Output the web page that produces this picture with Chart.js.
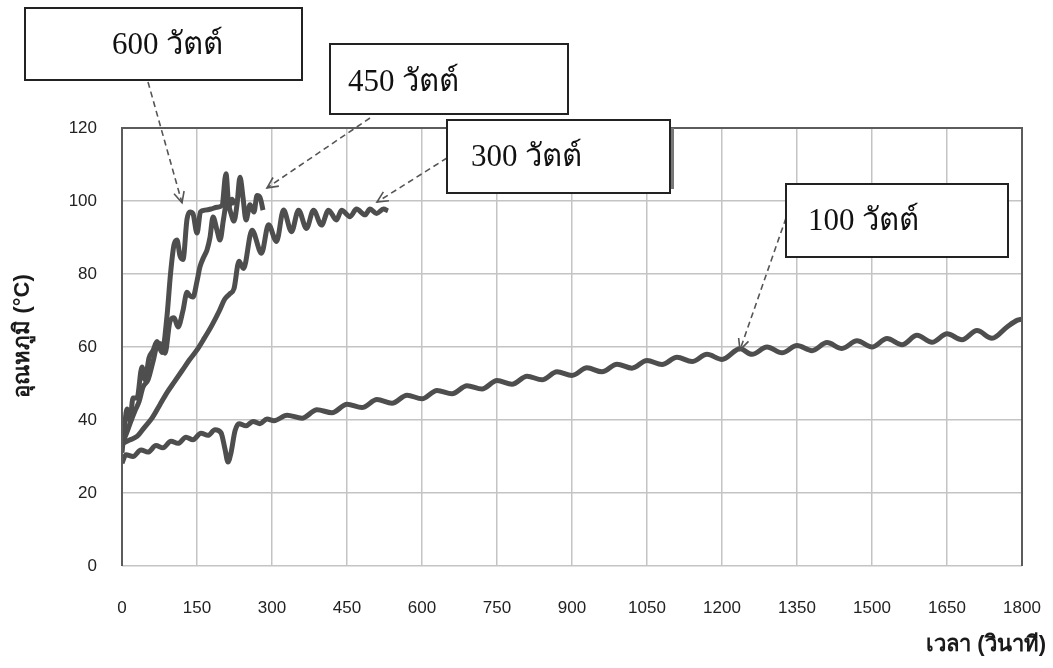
<!DOCTYPE html>
<html lang="th">
<head>
<meta charset="utf-8">
<script src="https://cdn.jsdelivr.net/npm/chart.js@4.4.1/dist/chart.umd.min.js"></script>
<style>
  html, body { margin: 0; padding: 0; background: #fff; }
</style>
</head>
<body>
<canvas id="tempChart" width="1053" height="668"></canvas>
<script>
/* =========================
   DATA (time in s, temperature in °C)
========================= */
const t600 = [0, 5, 10, 16, 22, 30, 40, 46, 54, 62, 70, 80, 90, 97, 104, 110, 116, 122, 130, 136,
  142, 150, 157, 166, 178, 190, 200, 208, 214, 220, 226];
const v600 = [31, 38, 43, 40, 46, 46, 54.5, 51, 57, 59, 61.5, 58.5, 68.5, 80, 88, 89.3, 85, 84, 95, 97,
  96.5, 91.2, 97, 97.5, 97.8, 98.3, 98.8, 107.5, 98.5, 100.5, 99];

const t450 = [0, 8, 16, 26, 34, 42, 52, 62, 72, 80, 86, 96, 104, 112, 122, 130, 136, 142, 150, 156,
  163, 170, 176, 182, 190, 196, 203, 210, 217, 224, 230, 236, 242, 248, 256, 264, 270, 276, 282];
const v450 = [33.5, 36, 39, 42.5, 45, 49, 51, 56, 61, 60.5, 58.3, 67, 68, 65.5, 70, 75, 74, 73.7, 78, 82,
  84.5, 86.6, 90, 95.6, 92, 89.3, 95, 100, 97, 94.5, 99, 106.5, 101, 94.8, 99, 97, 101.5, 101, 97.5];

const t300 = [0, 15, 30, 45, 60, 75, 90, 105, 120, 135, 150, 165, 180, 195, 205, 215, 224, 234, 243, 260,
  279, 293, 309, 323, 339, 353, 369, 383, 399, 413, 429, 439, 456, 469, 486, 496, 509, 523, 532];
const v300 = [33.5, 34.5, 35.5, 38, 40.5, 44, 47.5, 50.5, 53.5, 56.5, 59.2, 62.5, 66, 70, 73, 74.5, 76, 83.5, 81.5, 92,
  85.7, 93.5, 88.9, 97.5, 91.6, 97.5, 92.5, 97.5, 93.4, 97.5, 94.8, 97.5, 95.7, 97.8, 96.2, 97.8, 96.6, 97.8, 97.3];

const t100 = [0, 8, 22, 38, 52, 68, 82, 98, 112, 128, 142, 158, 172, 186, 198, 206, 212, 218, 226, 234,
  248, 262, 276, 290, 304, 330, 360, 390, 420, 450, 480, 510, 540, 570, 600, 630, 660, 690, 720, 750,
  780, 810, 840, 870, 900, 930, 960, 990, 1020, 1050, 1080, 1110, 1140, 1170, 1200, 1236, 1260, 1290, 1320, 1350,
  1380, 1410, 1440, 1470, 1500, 1530, 1560, 1590, 1620, 1650, 1680, 1710, 1740, 1770, 1790, 1800];
const v100 = [28.2, 30.5, 30, 31.8, 31.2, 33, 32.4, 34.2, 33.6, 35.3, 34.6, 36.4, 35.8, 37.3, 36.5, 32, 28.5, 31, 37, 39,
  38.4, 39.6, 39, 40.3, 39.8, 41.3, 40.5, 42.8, 42.0, 44.3, 43.4, 45.6, 44.6, 46.8, 45.8, 48.1, 47.2, 49.4, 48.5, 50.8,
  49.8, 52.0, 51.0, 53.2, 52.2, 54.3, 53.2, 55.3, 54.2, 56.3, 55.2, 57.2, 56.0, 58.0, 56.6, 59.5, 58.0, 60.0, 58.4, 60.4,
  59.0, 61.2, 59.6, 61.7, 60.0, 62.3, 60.6, 63.2, 61.3, 63.6, 62.0, 64.5, 62.4, 65.5, 67.3, 67.6];

const xTitle = "เวลา (วินาที)";
const yTitle = "อุณหภูมิ (°C)";

// callout texts and the point (time, temp) each arrow points at
const noteLabels = ["600 วัตต์", "450 วัตต์", "300 วัตต์", "100 วัตต์"];
const noteTipTime = [120, 290, 510, 1236];
const noteTipTemp = [99.5, 103.6, 99.7, 59.2];

/* =========================
   HELPERS
========================= */
function toPoints(ts, vs) {
  return ts.map((t, i) => ({ x: t, y: vs[i] }));
}

function curve(label, ts, vs) {
  return {
    label: label,
    data: toPoints(ts, vs),
    borderColor: "#4e4e4e",
    borderWidth: 5,
    pointRadius: 0,
    cubicInterpolationMode: "monotone",
    fill: false
  };
}

// callout boxes: canvas px, with where the dashed arrow leaves the box
const noteBoxes = [
  { x: 25, y: 8, w: 277, h: 72, tx: 112, ty: 46, fromX: 148, fromY: 82 },
  { x: 330, y: 44, w: 238, h: 70, tx: 348, ty: 83, fromX: 370, fromY: 118 },
  { x: 447, y: 120, w: 223, h: 73, tx: 471, ty: 158, fromX: 447, fromY: 158, shade: true },
  { x: 786, y: 184, w: 222, h: 73, tx: 808, ty: 222, fromX: 786, fromY: 218 }
];

function drawArrow(ctx, x0, y0, x1, y1) {
  ctx.setLineDash([6, 4]);
  ctx.beginPath();
  ctx.moveTo(x0, y0);
  ctx.lineTo(x1, y1);
  ctx.stroke();
  ctx.setLineDash([]);
  const ang = Math.atan2(y1 - y0, x1 - x0);
  const len = 12, spread = 0.45;
  ctx.beginPath();
  ctx.moveTo(x1 - len * Math.cos(ang - spread), y1 - len * Math.sin(ang - spread));
  ctx.lineTo(x1, y1);
  ctx.lineTo(x1 - len * Math.cos(ang + spread), y1 - len * Math.sin(ang + spread));
  ctx.stroke();
}

/* =========================
   FRAME, TITLES, CALLOUTS
========================= */
const decorPlugin = {
  id: "decor",
  afterDraw(chart) {
    const { ctx, chartArea: a, scales } = chart;
    ctx.save();

    // plot frame (left, top, right)
    ctx.strokeStyle = "#5c5c5c";
    ctx.lineWidth = 2;
    ctx.beginPath();
    ctx.moveTo(a.left, a.bottom);
    ctx.lineTo(a.left, a.top);
    ctx.lineTo(a.right, a.top);
    ctx.lineTo(a.right, a.bottom);
    ctx.stroke();

    // axis titles
    ctx.fillStyle = "#1a1a1a";
    ctx.font = "bold 22px 'Liberation Sans', Arial, sans-serif";
    ctx.textAlign = "right";
    ctx.textBaseline = "middle";
    ctx.fillText(xTitle, 1046, 645);
    ctx.save();
    ctx.translate(23, 336);
    ctx.rotate(-Math.PI / 2);
    ctx.textAlign = "center";
    ctx.fillText(yTitle, 0, 0);
    ctx.restore();

    // callouts
    noteBoxes.forEach((b, i) => {
      const tipX = scales.x.getPixelForValue(noteTipTime[i]);
      const tipY = scales.y.getPixelForValue(noteTipTemp[i]);
      ctx.strokeStyle = "#555";
      ctx.lineWidth = 1.6;
      drawArrow(ctx, b.fromX, b.fromY, tipX, tipY);

      if (b.shade) {
        ctx.fillStyle = "#777";
        ctx.fillRect(b.x + b.w + 1, b.y + 8, 3, b.h - 12);
      }
      ctx.fillStyle = "#fff";
      ctx.fillRect(b.x, b.y, b.w, b.h);
      ctx.strokeStyle = "#222";
      ctx.lineWidth = 2;
      ctx.strokeRect(b.x, b.y, b.w, b.h);

      ctx.fillStyle = "#111";
      ctx.font = "31px 'Liberation Serif', 'DejaVu Serif', serif";
      ctx.textAlign = "left";
      ctx.textBaseline = "middle";
      ctx.fillText(noteLabels[i], b.tx, b.ty);
    });

    ctx.restore();
  }
};

/* =========================
   CHART
========================= */
const tickFont = { family: "'Liberation Sans', Arial, sans-serif", size: 17 };

const tempChart = new Chart(document.getElementById("tempChart"), {
  type: "line",
  data: {
    datasets: [
      curve("100 วัตต์", t100, v100),
      curve("300 วัตต์", t300, v300),
      curve("450 วัตต์", t450, v450),
      curve("600 วัตต์", t600, v600)
    ]
  },
  options: {
    responsive: false,
    animation: false,
    layout: { padding: { top: 128, right: 31, left: 0, bottom: 0 } },
    plugins: { legend: { display: false }, tooltip: { enabled: false } },
    scales: {
      x: {
        type: "linear",
        min: 0,
        max: 1800,
        afterFit: (s) => { s.height = 102; s.paddingLeft = 0; s.paddingRight = 0; },
        ticks: { stepSize: 150, color: "#222", font: tickFont, padding: 32, callback: (v) => String(v) },
        grid: { color: "#c4c4c4", lineWidth: 1.5, drawTicks: false },
        border: { display: false }
      },
      y: {
        min: 0,
        max: 120,
        afterFit: (s) => { s.width = 122; s.paddingTop = 0; s.paddingBottom = 0; },
        ticks: { stepSize: 20, color: "#222", font: tickFont, padding: 25 },
        grid: { color: "#c4c4c4", lineWidth: 1.5, drawTicks: false },
        border: { display: false }
      }
    }
  },
  plugins: [decorPlugin]
});
</script>
</body>
</html>
